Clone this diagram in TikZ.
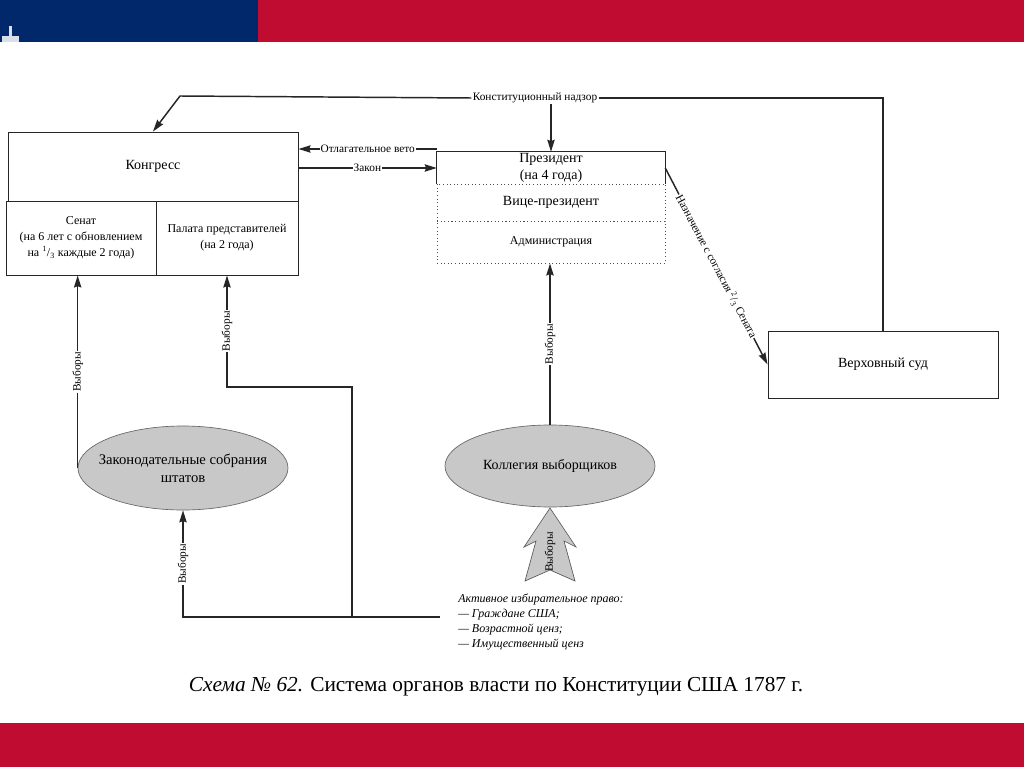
\documentclass[tikz,border=0pt]{standalone}
\usepackage{fontspec}
\setmainfont{Liberation Serif}
\usetikzlibrary{arrows.meta,fit,shapes.geometric,calc}
\definecolor{flagblue}{RGB}{0,40,106}
\definecolor{flagred}{RGB}{192,12,48}
\definecolor{ellgray}{RGB}{200,200,200}
\begin{document}
\begin{tikzpicture}[x=0.75pt,y=-0.75pt,
  box/.style={draw=black!85, line width=0.75pt, inner sep=0pt},
  dbox/.style={draw=black!70, dotted, line width=0.7pt, inner sep=0pt},
  txt/.style={font=\fontsize{10.5}{12.75}\selectfont, align=center, inner sep=1pt},
  stxt/.style={font=\fontsize{9}{12}\selectfont, align=center, inner sep=1pt},
  lbl/.style={font=\fontsize{8.5}{10}\selectfont, fill=white, inner sep=0.8pt},
  conn/.style={line width=1.1pt, draw=black!85},
  arr/.style={conn, -{Stealth[length=9pt,width=5.5pt,inset=1pt]}},
  ell/.style={ellipse, draw=black!60, fill=ellgray, line width=0.5pt, inner sep=0pt},
]
\useasboundingbox (0,0) rectangle (1024,767);
\fill[white] (0,0) rectangle (1024,767);
\fill[flagblue] (0,0) rectangle (258,42);
\fill[flagred] (258,0) rectangle (1024,42);
\fill[flagred] (0,723) rectangle (1024,767);
\fill[white!85!flagblue] (9,26) rectangle (12,42);
\fill[white!85!flagblue] (2,36) rectangle (19,42);

% Congress
\node[box, fit={(8,132)(298,201)}] (congtop) {};
\node[box, fit={(6,201)(156,275)}] (senat) {};
\node[box, fit={(156,201)(298,275)}] (palata) {};
\node[txt] (congtxt) at (congtop) {Конгресс};
\node[stxt] (senattxt) at (senat) {Сенат\\(на 6 лет с обновлением\\на \textsuperscript{1}/\textsubscript{3} каждые 2 года)};
\node[stxt] (palatatxt) at (palata) {Палата представителей\\(на 2 года)};

% President
\node[inner sep=0pt, fit={(437,152)(665,184)}] (pres) {};
\node[dbox, fit={(437,184)(665,221)}] (vp) {};
\node[dbox, fit={(437,221)(665,263)}] (adm) {};
\draw[box] (pres.south west) -- (pres.north west) -- (pres.north east) -- (pres.south east);
\node[txt] (prestxt) at (pres) {Президент\\(на 4 года)};
\node[txt] (vptxt) at (vp) {Вице-президент};
\node[stxt] (admtxt) at (adm) {Администрация};

% Supreme court
\node[box, fit={(768,331)(998,398)}] (sud) {};
\node[txt] (sudtxt) at (sud) {Верховный суд};

% Ellipses
\node[ell, minimum width=210*0.75pt, minimum height=84*0.75pt] (zak) at (183,468) {};
\node[txt, font=\fontsize{11}{13.5}\selectfont] (zaktxt) at (zak) {Законодательные собрания\\штатов};
\node[ell, minimum width=210*0.75pt, minimum height=82*0.75pt] (kol) at (550,466) {};
\node[txt] (koltxt) at (kol) {Коллегия выборщиков};

% Constitutional oversight
\coordinate (nadzorL) at (180,96);
\coordinate (nadzorR) at (885,98);
\node[lbl] (nadzor) at (535,98) {Конституционный надзор};
\draw[conn] (sud.north) -- (sud.north |- nadzorR) -- (nadzor.east);
\draw[arr] (nadzor.west) -- (nadzorL) -- (congtop.north);
\draw[arr] (pres.north |- nadzor.south) -- (pres.north);

% Veto and law
\coordinate (vetoR) at (437,149);
\draw[arr] (vetoR) -- node[lbl] (veto) {Отлагательное вето} (vetoR -| congtop.east);
\coordinate (zakonL) at (298,168);
\draw[arr] (zakonL) -- node[lbl] (zakon) {Закон} (zakonL -| pres.west);

% Nomination
\draw[arr] (pres.east) -- (sud.west);
\node[lbl, rotate=-62, inner sep=0.5pt] (naznach) at ($(pres.east)!0.5!(sud.west)$) {Назначение с согласия \textsuperscript{2}/\textsubscript{3} Сената};

% Elections
\draw[arr] (zak.west) -- node[lbl, rotate=90] (v1) {Выборы} (zak.west |- senat.south);
\coordinate (botJ) at (352,617);
\coordinate (botR) at (440,617);
\coordinate (hturn) at (352,387);
\draw[arr] (botJ) -- (hturn) -- (palata.south |- hturn) -- node[lbl, rotate=90] (v2) {Выборы} (palata.south);
\draw[arr] (botR) -- (zak.south |- botR) -- node[lbl, rotate=90] (v3) {Выборы} (zak.south);
\draw[arr] (kol.north) -- node[lbl, rotate=90] (v4) {Выборы} (kol.north |- adm.south);

% Block arrow
\draw[draw=black!65, fill=ellgray, line width=0.5pt]
  (550,508) -- (576,547) -- (564,541) -- (575,581) -- (550,570) -- (525,581) -- (536,541) -- (524,547) -- cycle;
\node[font=\fontsize{8.5}{10}\selectfont, rotate=90, inner sep=0pt] (v5) at (550,552) {Выборы};

% Active suffrage
\node[font=\fontsize{9}{11.25}\selectfont\itshape, align=left, anchor=north west, inner sep=0pt] (aktiv) at (458,594)
  {Активное избирательное право:\\— Граждане США;\\— Возрастной ценз;\\— Имущественный ценз};

% Caption
\node[font=\fontsize{16}{18}\selectfont, anchor=base, inner sep=0pt] (cap) at (496,691)
  {\textit{Схема № 62.} Система органов власти по Конституции США 1787 г.};
\end{tikzpicture}
\end{document}
